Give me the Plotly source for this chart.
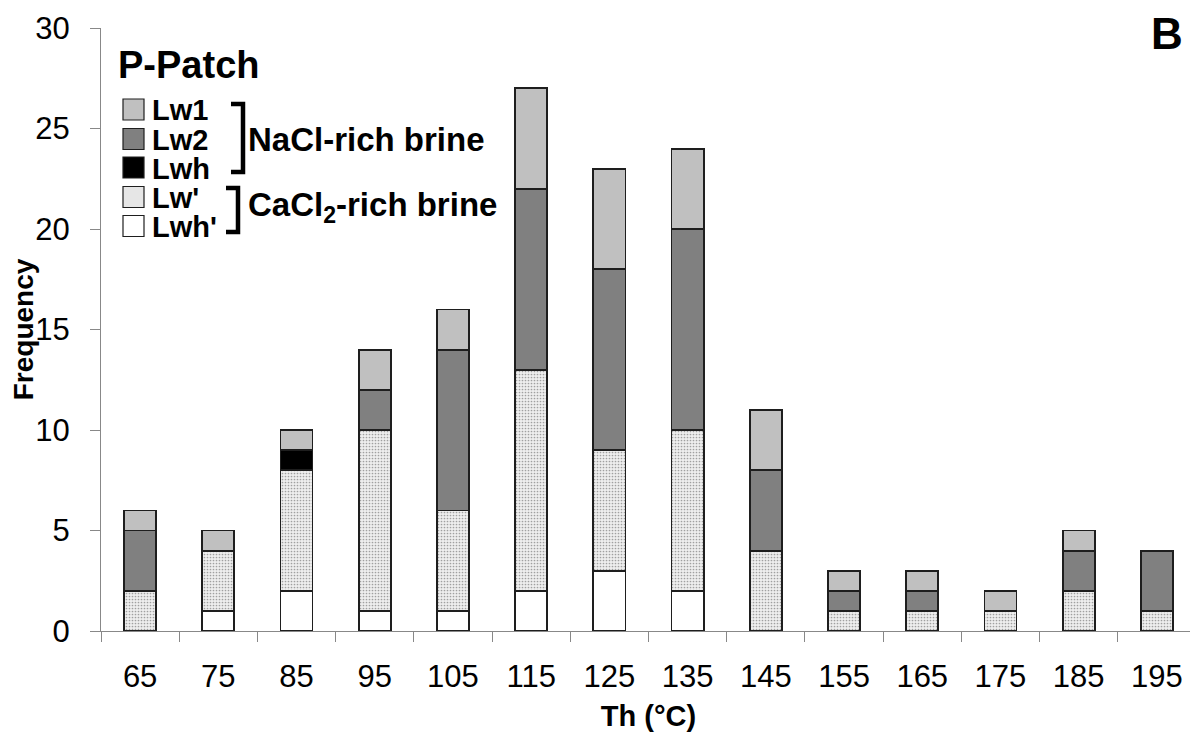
import plotly.graph_objects as go

# ---------------- data ----------------
categories = ["65", "75", "85", "95", "105", "115", "125", "135",
              "145", "155", "165", "175", "185", "195"]
lwh_prime = [0, 1, 2, 1, 1, 2, 3, 2, 0, 0, 0, 0, 0, 0]
lw_prime = [2, 3, 6, 9, 5, 11, 6, 8, 4, 1, 1, 1, 2, 1]
lwh = [0, 0, 1, 0, 0, 0, 0, 0, 0, 0, 0, 0, 0, 0]
lw2 = [3, 0, 0, 2, 8, 9, 9, 10, 4, 1, 1, 0, 2, 3]
lw1 = [1, 1, 1, 2, 2, 5, 5, 4, 3, 1, 1, 1, 1, 0]

series_names = ["Lwh'", "Lw'", "Lwh", "Lw2", "Lw1"]
y_ticks = [0, 5, 10, 15, 20, 25, 30]

# ---------------- styles ----------------
FONT = "Liberation Sans, Arial, sans-serif"
OFF = 8                      # browser body margin
W, H = 1198 - OFF, 738 - OFF
ML, MR, MT, MB = 101 - OFF, 2, 28 - OFF, 107
PW, PH = W - ML - MR, H - MT - MB
OUTLINE = dict(color="#1e1e1e", width=1.8)

def px(x):
    """screen x -> paper x"""
    return (x - OFF - ML) / PW

def py(y):
    """screen y -> paper y"""
    return (H - MB - (y - OFF)) / PH

def nz(v):
    return [None if a == 0 else a for a in v]

styles = {
    "Lwh'": dict(color="#ffffff"),
    "Lw'": dict(color="#ececec",
                pattern=dict(shape=".", fgcolor="#a0a0a0", bgcolor="#eeeeee",
                             size=3, solidity=0.25, fillmode="replace")),
    "Lwh": dict(color="#000000"),
    "Lw2": dict(color="#808080"),
    "Lw1": dict(color="#c0c0c0"),
}
values = {"Lwh'": lwh_prime, "Lw'": lw_prime, "Lwh": lwh, "Lw2": lw2, "Lw1": lw1}

fig = go.Figure()
for name in series_names:
    fig.add_trace(go.Bar(
        x=categories, y=nz(values[name]), name=name,
        width=0.41, marker=dict(line=OUTLINE, **styles[name]),
        showlegend=False,
    ))

# ---------------- custom legend ----------------
shapes = []
annotations = []
legend_items = [("Lw1", "#c0c0c0", 109.5), ("Lw2", "#808080", 139),
                ("Lwh", "#000000", 167.5), ("Lw'", "#e6e6e6", 197),
                ("Lwh'", "#ffffff", 226)]
for label, col, cy in legend_items:
    shapes.append(dict(type="rect", xref="paper", yref="paper",
                       x0=px(123), x1=px(144), y0=py(cy + 10.5), y1=py(cy - 10.5),
                       fillcolor=col, line=dict(color="#1e1e1e", width=1.2)))
    annotations.append(dict(text="<b>%s</b>" % label, xref="paper", yref="paper",
                            x=px(151), y=py(cy + 1), xanchor="left", yanchor="middle",
                            borderpad=0,
                            showarrow=False, font=dict(family=FONT, size=29, color="#000")))

def bracket(x0, x1, y0, y1):
    return dict(type="path", xref="paper", yref="paper",
                path="M %f,%f L %f,%f L %f,%f L %f,%f" % (
                    px(x0), py(y0), px(x1), py(y0), px(x1), py(y1), px(x0), py(y1)),
                line=dict(color="#000", width=4.5))

shapes.append(bracket(231, 243, 104, 172))
shapes.append(bracket(226, 238, 188, 232))

annotations.append(dict(text="<b>NaCl-rich brine</b>", xref="paper", yref="paper",
                        x=px(246), y=py(139), xanchor="left", yanchor="middle",
                        showarrow=False, font=dict(family=FONT, size=33, color="#000")))
annotations.append(dict(text="<b>CaCl<sub>2</sub>-rich brine</b>", xref="paper", yref="paper",
                        x=px(246), y=py(207), xanchor="left", yanchor="middle",
                        showarrow=False, font=dict(family=FONT, size=33, color="#000")))
annotations.append(dict(text="<b>P-Patch</b>", xref="paper", yref="paper",
                        x=px(116), y=py(65), xanchor="left", yanchor="middle",
                        showarrow=False, font=dict(family=FONT, size=38, color="#000")))
annotations.append(dict(text="<b>B</b>", xref="paper", yref="paper",
                        x=px(1167), y=py(34), xanchor="center", yanchor="middle",
                        showarrow=False, font=dict(family=FONT, size=44, color="#000")))

fig.update_layout(
    width=W, height=H,
    margin=dict(l=ML, r=MR, t=MT, b=MB, autoexpand=False),
    paper_bgcolor="white", plot_bgcolor="white",
    barmode="stack",
    font=dict(family=FONT, color="#000"),
    shapes=shapes, annotations=annotations,
    xaxis=dict(
        type="category", range=[-0.5, 13.5], tickson="boundaries",
        ticks="outside", ticklen=10, tickcolor="#888", tickwidth=1,
        showline=True, linecolor="#888", linewidth=1, showgrid=False,
        tickfont=dict(family=FONT, size=31, color="#000"),
        ticklabelstandoff=18,
        title=dict(text="<b>Th (°C)</b>", font=dict(family=FONT, size=29, color="#000"),
                   standoff=12),
        automargin=False,
    ),
    yaxis=dict(
        range=[0, 30], tickvals=y_ticks, ticks="outside", ticklen=10,
        tickcolor="#888", tickwidth=1, showline=True, linecolor="#888", linewidth=1,
        showgrid=False, zeroline=False,
        tickfont=dict(family=FONT, size=31, color="#000"),
        ticklabelstandoff=14,
        title=dict(text="<b>Frequency</b>", font=dict(family=FONT, size=28, color="#000"),
                   standoff=6),
        automargin=False,
    ),
)

fig.write_html("out.html")
